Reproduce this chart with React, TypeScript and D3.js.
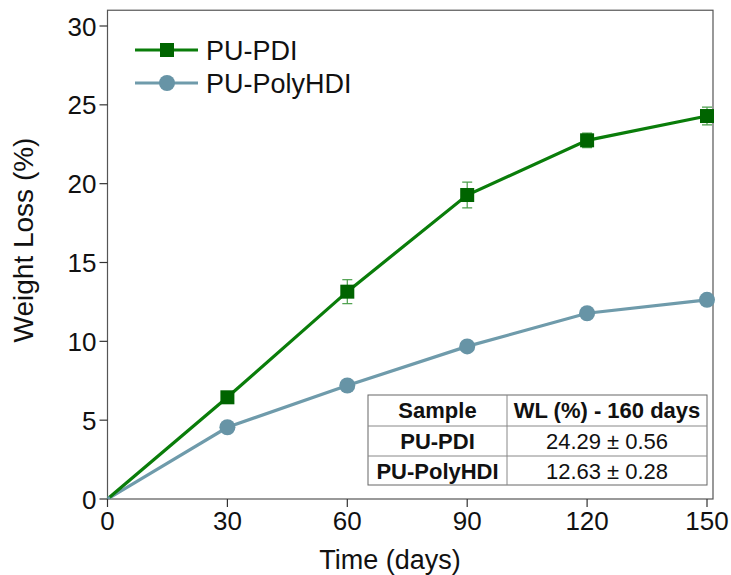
import React from "react";
import * as d3 from "d3";

// Degradation time points (days)
const days = [0, 30, 60, 90, 120, 150];
// Mean weight loss (%) and standard deviations per series
const pdiLoss = [0, 6.45, 13.15, 19.28, 22.75, 24.29];
const pdiErr = [0, 0.25, 0.76, 0.82, 0.46, 0.56];
const polyLoss = [0, 4.55, 7.2, 9.68, 11.78, 12.63];
const polyErr = [0, 0.15, 0.2, 0.25, 0.25, 0.28];

const xTicks = [0, 30, 60, 90, 120, 150];
const yTicks = [0, 5, 10, 15, 20, 25, 30];

const seriesNames = ["PU-PDI", "PU-PolyHDI"];
const tableHeader = ["Sample", "WL (%) - 160 days"];
const tableRows = [
  ["PU-PDI", "24.29 ± 0.56"],
  ["PU-PolyHDI", "12.63 ± 0.28"],
];

const W = 731;
const H = 575;
const FONT = "'Liberation Sans', Arial, sans-serif";

const GREEN_LINE = "#0a7d0a";
const GREEN_MARK = "#006400";
const GREEN_ERR = "#4a9e4a";
const BLUE_LINE = "#6f9bab";
const BLUE_MARK = "#6794a6";

export default function App() {
  const x = d3.scaleLinear().domain([0, 150]).range([107.5, 707]);
  const y = d3.scaleLinear().domain([0, 30]).range([499, 26]);
  const frameLeft = x(0);
  const frameRight = x(151.5);
  const frameTop = y(31);
  const frameBottom = y(0);

  const line = d3
    .line<number>()
    .x((_, i) => x(days[i]))
    .y((v) => y(v));

  const sq = 14;
  const cr = 8;

  // Table geometry
  const tLeft = 368;
  const tMid = 507;
  const tRight = 707;
  const rowYs = [395, 426, 456, 485];

  return (
    <svg
      width={W}
      height={H}
      style={{ position: "absolute", left: 0, top: 0, background: "#fff" }}
      fontFamily={FONT}
    >
      <defs>
        <clipPath id="plotArea">
          <rect x={frameLeft} y={frameTop} width={frameRight - frameLeft + 2} height={frameBottom - frameTop} />
        </clipPath>
      </defs>

      {/* frame */}
      <rect
        x={frameLeft}
        y={frameTop}
        width={frameRight - frameLeft}
        height={frameBottom - frameTop}
        fill="none"
        stroke="#555"
        strokeWidth={1.2}
      />

      {/* x axis */}
      {xTicks.map((t) => (
        <g key={"x" + t}>
          <line x1={x(t)} x2={x(t)} y1={frameBottom} y2={frameBottom + 8} stroke="#333" strokeWidth={1.2} />
          <text x={x(t)} y={frameBottom + 31} textAnchor="middle" fontSize={26} fill="#111">
            {t}
          </text>
        </g>
      ))}
      <text x={390} y={569} textAnchor="middle" fontSize={27} fill="#111">
        Time (days)
      </text>

      {/* y axis */}
      {yTicks.map((t) => (
        <g key={"y" + t}>
          <line x1={frameLeft - 8} x2={frameLeft} y1={y(t)} y2={y(t)} stroke="#333" strokeWidth={1.2} />
          <text x={frameLeft - 11} y={y(t) + 9.5} textAnchor="end" fontSize={26} fill="#111">
            {t}
          </text>
        </g>
      ))}
      <text
        transform={`translate(33, 240) rotate(-90)`}
        textAnchor="middle"
        fontSize={28}
        fill="#111"
      >
        Weight Loss (%)
      </text>

      {/* series */}
      <g clipPath="url(#plotArea)">
        <path d={line(polyLoss) || ""} fill="none" stroke={BLUE_LINE} strokeWidth={3.2} />
        <path d={line(pdiLoss) || ""} fill="none" stroke={GREEN_LINE} strokeWidth={3.2} />

        {polyLoss.map((v, i) =>
          i === 0 ? null : (
            <g key={"p" + i}>
              <line x1={x(days[i])} x2={x(days[i])} y1={y(v - polyErr[i])} y2={y(v + polyErr[i])} stroke={BLUE_MARK} strokeWidth={1} />
              <circle cx={x(days[i])} cy={y(v)} r={cr} fill={BLUE_MARK} />
            </g>
          )
        )}
        <circle cx={x(0)} cy={y(0)} r={3} fill={BLUE_MARK} />

        {pdiLoss.map((v, i) =>
          i === 0 ? null : (
            <g key={"d" + i}>
              <line x1={x(days[i])} x2={x(days[i])} y1={y(v - pdiErr[i])} y2={y(v + pdiErr[i])} stroke={GREEN_ERR} strokeWidth={1.2} />
              <line x1={x(days[i]) - 5} x2={x(days[i]) + 5} y1={y(v - pdiErr[i])} y2={y(v - pdiErr[i])} stroke={GREEN_ERR} strokeWidth={1.2} />
              <line x1={x(days[i]) - 5} x2={x(days[i]) + 5} y1={y(v + pdiErr[i])} y2={y(v + pdiErr[i])} stroke={GREEN_ERR} strokeWidth={1.2} />
              <rect x={x(days[i]) - sq / 2} y={y(v) - sq / 2} width={sq} height={sq} fill={GREEN_MARK} />
            </g>
          )
        )}
      </g>

      {/* legend */}
      <g>
        <line x1={135} x2={198} y1={50} y2={50} stroke={GREEN_LINE} strokeWidth={3.2} />
        <rect x={167 - sq / 2} y={50 - sq / 2} width={sq} height={sq} fill={GREEN_MARK} />
        <text x={206} y={59.5} fontSize={27} fill="#111">
          {seriesNames[0]}
        </text>
        <line x1={135} x2={198} y1={83} y2={83} stroke={BLUE_LINE} strokeWidth={3.2} />
        <circle cx={167} cy={83} r={cr} fill={BLUE_MARK} />
        <text x={206} y={92.5} fontSize={27} fill="#111">
          {seriesNames[1]}
        </text>
      </g>

      {/* summary table */}
      <g>
        <rect x={tLeft} y={rowYs[0]} width={tRight - tLeft} height={rowYs[3] - rowYs[0]} fill="#fff" stroke="#666" strokeWidth={1} />
        <line x1={tLeft} x2={tRight} y1={rowYs[1]} y2={rowYs[1]} stroke="#888" strokeWidth={1} />
        <line x1={tLeft} x2={tRight} y1={rowYs[2]} y2={rowYs[2]} stroke="#888" strokeWidth={1} />
        <line x1={tMid} x2={tMid} y1={rowYs[0]} y2={rowYs[3]} stroke="#888" strokeWidth={1} />
        <text x={(tLeft + tMid) / 2} y={rowYs[0] + 23} textAnchor="middle" fontSize={22} fontWeight="bold" fill="#111">
          {tableHeader[0]}
        </text>
        <text x={(tMid + tRight) / 2} y={rowYs[0] + 23} textAnchor="middle" fontSize={22} fontWeight="bold" fill="#111">
          {tableHeader[1]}
        </text>
        {tableRows.map((r, i) => (
          <g key={"row" + i}>
            <text x={(tLeft + tMid) / 2} y={rowYs[i + 1] + 22.5} textAnchor="middle" fontSize={22} fontWeight="bold" fill="#111">
              {r[0]}
            </text>
            <text x={(tMid + tRight) / 2} y={rowYs[i + 1] + 22.5} textAnchor="middle" fontSize={22} fill="#111">
              {r[1]}
            </text>
          </g>
        ))}
      </g>
    </svg>
  );
}
